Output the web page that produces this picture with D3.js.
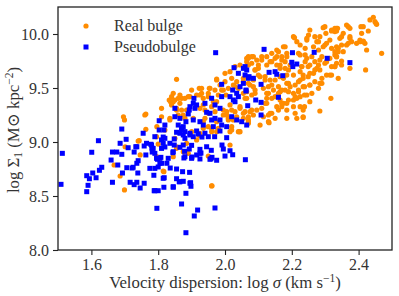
<!DOCTYPE html>
<html>
<head>
<meta charset="utf-8">
<script src="https://cdn.jsdelivr.net/npm/d3@7/dist/d3.min.js"></script>
<style>
  body { margin: 0; background: #fff; }
  svg text { font-family: "Liberation Serif", "DejaVu Serif", serif; fill: #333; }
</style>
</head>
<body>
<svg id="chart" width="399" height="296"></svg>
<script>
// series names, in draw order
var seriesNames = ["Real bulge", "Pseudobulge"];
var xTicks = [1.6, 1.8, 2.0, 2.2, 2.4];
var yTicks = [8.0, 8.5, 9.0, 9.5, 10.0];

// [log sigma, log Sigma1]
var realBulge = [
 [1.855,9.580],[1.840,9.420],[1.837,9.373],[1.850,9.389],[1.865,9.435],[1.870,9.404],[1.865,9.358],[1.855,9.296],[1.870,9.296],[1.890,9.420],
 [1.900,9.481],[1.915,9.435],[1.880,9.219],[1.835,9.204],[1.696,9.234],[1.699,9.204],[1.760,9.250],[1.763,9.117],[1.796,9.142],[1.740,9.009],
 [1.701,8.956],[1.905,9.219],[1.900,9.096],[1.915,9.019],[1.923,9.060],[1.885,8.988],[1.855,8.956],[1.800,8.981],
 [1.923,9.497],[1.930,9.451],[1.953,9.497],[1.975,9.583],[1.985,9.528],[2.000,9.559],[2.020,9.590],[2.015,9.651],[2.030,9.698],[2.065,9.744],
 [2.070,9.790],[1.990,9.481],[2.003,9.435],[2.010,9.497],[2.030,9.512],[2.035,9.559],[2.055,9.590],[2.065,9.466],[2.060,9.404],[2.015,9.343],
 [2.020,9.296],[2.005,9.281],[1.995,9.250],[2.010,9.219],[2.030,9.281],[2.045,9.312],[2.060,9.281],[2.055,9.219],[2.070,9.234],[2.020,9.111],
 [2.040,9.096],[1.965,9.373],[1.950,9.420],[1.895,9.420],[1.880,9.404],[1.860,9.404],[1.845,9.451],[1.845,9.373],[1.840,9.343],[1.833,9.389],
 [1.855,9.312],[1.860,9.250],[1.835,9.219],[1.875,9.250],[1.885,9.296],[1.935,9.188],[1.950,9.142],[1.960,9.096],[1.975,9.096],[2.015,9.219],
 [1.925,9.435],[1.935,9.343],[1.940,9.296],[1.975,9.373],[1.980,9.435],
 [2.444,10.155],[2.452,10.099],[2.434,10.130],[2.414,10.068],[2.409,10.006],[2.404,9.944],[2.414,9.929],[2.419,9.914],[2.394,9.914],[2.424,9.852],
 [2.469,9.821],[2.421,9.667],[2.364,10.083],[2.369,10.068],[2.334,10.053],[2.329,10.022],[2.299,10.068],[2.319,10.028],[2.302,10.006],[2.354,10.006],
 [2.344,9.960],[2.374,9.975],[2.379,9.929],[2.364,9.898],[2.349,9.898],[2.334,9.882],[2.339,9.836],[2.329,9.806],[2.314,9.944],[2.304,9.914],
 [2.294,9.882],[2.284,9.975],[2.275,9.929],[2.265,9.882],[2.280,9.852],[2.290,9.790],[2.304,9.744],[2.319,9.698],[2.334,9.729],[2.374,9.682],
 [2.339,9.590],[2.319,9.620],[2.304,9.620],[2.290,9.543],[2.280,9.497],[2.317,9.404],[2.284,9.287],[2.234,9.234],[2.254,9.373],[2.245,9.435],
 [2.225,9.420],[2.210,9.420],[2.220,9.481],[2.234,9.512],[2.254,9.528],[2.269,9.559],[2.265,9.636],[2.249,9.605],[2.234,9.620],[2.225,9.574],
 [2.210,9.528],[2.195,9.512],[2.180,9.481],[2.165,9.466],[2.145,9.481],[2.130,9.512],[2.125,9.451],[2.140,9.404],[2.125,9.358],[2.110,9.312],
 [2.095,9.296],[2.085,9.250],[2.070,9.204],[2.075,9.281],[2.055,9.266],[2.045,9.327],[2.035,9.234],[2.020,9.142],[2.025,9.204],[2.015,9.096],
 [2.045,9.096],[2.015,8.972],[2.135,9.266],[2.155,9.327],[2.175,9.358],[2.190,9.389],[2.205,9.389],[2.165,9.389],[2.150,9.420],[2.185,9.543],
 [2.175,9.590],[2.165,9.605],[2.150,9.574],[2.135,9.574],[2.120,9.605],[2.100,9.620],[2.085,9.574],[2.070,9.543],[2.055,9.559],[2.090,9.667],
 [2.100,9.713],[2.110,9.759],[2.125,9.790],[2.135,9.744],[2.150,9.775],[2.170,9.790],[2.185,9.821],[2.180,9.744],[2.165,9.713],[2.155,9.852],
 [2.175,9.882],[2.205,9.975],[2.215,9.929],[2.225,9.898],[2.240,9.867],[2.245,9.944],[2.250,9.990],[2.254,10.037],[2.225,9.806],[2.245,9.775],
 [2.254,9.713],[2.269,9.744],[2.275,9.682],[2.284,9.667],[2.230,9.698],[2.225,9.651],[2.190,9.667],[2.205,9.620],[2.185,9.620],[2.195,9.713],
 [2.065,9.775],[2.070,9.713],[2.080,9.790],[2.045,9.713],[2.000,9.636],[1.975,9.574],[1.995,9.481],[1.970,9.481],[1.955,9.497],[1.950,9.451],
 [1.930,9.497],[1.935,9.404],[1.960,9.327],[1.970,9.281],[1.950,9.266],[1.940,9.219],[1.975,9.188],[1.980,9.127],[1.960,9.127],[1.935,9.127],
 [2.005,9.250],[2.010,9.204],[1.995,9.296],[1.925,9.312],[2.065,9.404],[2.080,9.435],[2.090,9.481],[2.055,9.451],[2.040,9.497],[2.025,9.528],
 [2.205,9.451],[2.170,9.327],[2.160,9.296],[2.185,9.296],[2.205,9.327],[2.215,9.219],[2.210,9.266],[2.150,9.219],[2.130,9.250],[2.115,9.234],
 [2.185,9.219],[2.225,9.327],
 [2.260,9.451],[2.238,9.435],[2.238,9.327],[2.234,9.228],[2.215,9.404],[2.185,9.358],[2.140,9.266],[2.132,9.179],[2.070,9.173],[2.125,9.404],
 [2.170,9.358],[2.080,9.296],[2.120,9.358],
 [2.449,10.114],[2.454,10.090],[2.407,10.068],[2.429,10.028],[2.374,10.053],[2.337,10.053],[2.349,9.975],[2.374,9.960],[2.369,9.914],[2.404,9.929],
 [2.414,9.935],[2.339,9.867],[2.354,9.836],[2.334,9.790],[2.349,9.750],[2.349,9.713],[2.329,9.698],
 [1.820,9.111],[1.850,9.034],[1.855,8.941],[1.875,8.910],[1.890,8.895],[1.845,8.864],[1.795,8.864],[1.817,8.725],[1.950,8.870],[1.960,8.593],
 [2.043,9.096],[1.925,9.081],[1.795,9.049],
 [2.294,10.059],[2.319,10.037],[2.329,10.053],[2.334,10.028],[2.208,9.966],[2.245,9.960],[2.269,9.975],[2.280,9.929],[2.299,9.898],[2.319,9.867],
 [2.329,9.836],[2.334,9.790],[2.314,9.775],[2.299,9.729],[2.329,9.698],[2.314,9.620],[2.290,9.590],[2.284,9.543],[2.254,9.528],[2.238,9.512],
 [2.220,9.466],[2.190,9.466],[2.170,9.481],[2.160,9.512],[2.190,9.543],[2.220,9.559],[2.234,9.590],[2.254,9.636],[2.269,9.667],[2.280,9.713],
 [2.284,9.759],[2.260,9.790],[2.240,9.744],[2.230,9.698],[2.249,9.698],[2.240,9.806],[2.220,9.821],[2.185,9.790],[2.170,9.759],[2.155,9.713],
 [2.165,9.682],[2.180,9.682],[2.140,9.744],[2.125,9.713],[2.100,9.682],[2.090,9.667],[2.080,9.729],[2.070,9.775],[2.085,9.790],[2.095,9.759],
 [2.110,9.790],[2.140,9.821],[2.160,9.836],[2.180,9.882],[2.155,9.790],[2.120,9.574],[2.105,9.605],[2.140,9.528],[2.115,9.497],[2.085,9.512],
 [2.075,9.528],[2.160,9.451],[2.130,9.451],[2.090,9.451],
 [2.105,9.157],[2.130,9.188],[2.070,9.188],[2.234,9.296],[1.810,9.312],[1.810,9.234],[1.699,8.556],[1.686,8.685],[1.668,8.787],[1.815,8.731],
 [1.961,8.595],[1.743,9.012],[1.746,8.880],[1.763,9.259]
];

var pseudoBulge = [
 [1.513,8.895],[1.601,8.905],[1.621,9.012],[1.691,9.120],[1.704,9.025],[1.686,8.988],[1.755,9.081],[1.663,8.907],[1.676,8.907],[1.691,8.886],
 [1.710,8.947],[1.733,8.956],[1.728,8.907],[1.763,8.880],[1.758,8.963],[1.778,8.979],[1.782,8.907],[1.659,8.833],[1.740,8.827],[1.736,8.803],
 [1.706,8.762],[1.631,8.766],[1.679,8.787],[1.725,8.766],[1.509,8.608],[1.586,8.688],[1.594,8.660],[1.604,8.713],[1.614,8.669],[1.624,8.738],
 [1.590,8.599],[1.586,8.540],[1.663,8.627],[1.693,8.713],[1.722,8.759],[1.739,8.713],[1.716,8.627],[1.728,8.605],[1.736,8.627],[1.746,8.574],
 [1.758,8.618],[1.787,8.692],[1.788,8.549],[1.775,8.756],[1.796,8.386],[1.883,8.160],[1.870,8.426],[1.908,8.315],[1.918,8.370],[1.883,8.525],
 [1.895,8.618],[1.865,8.632],[1.970,8.389],[2.000,8.870],[1.958,8.845],[1.928,8.898],
 [1.803,9.197],[1.820,9.157],[1.817,9.111],[1.850,9.234],[1.865,9.219],[1.860,9.157],[1.855,9.090],[1.870,9.111],[1.875,9.142],[1.883,9.188],
 [1.893,9.296],[1.905,9.358],[1.915,9.343],[1.910,9.312],[1.940,9.358],[1.945,9.275],[1.955,9.266],[1.960,9.204],[1.970,9.219],[1.965,9.142],
 [1.985,9.204],[1.990,9.157],[2.005,9.142],[1.960,9.405],[1.970,9.343],[1.990,9.420],[1.985,9.312],[2.015,9.420],[2.025,9.389],[2.040,9.420],
 [2.030,9.373],[2.045,9.512],[2.055,9.543],[2.040,9.636],[2.055,9.682],[2.065,9.667],[2.060,9.620],[2.070,9.590],[2.035,9.204],[2.050,9.188],
 [2.065,9.157],[2.020,9.234],[1.905,9.204],[1.925,9.188],[1.935,9.157],[1.880,9.096],[1.895,9.081],[1.915,9.102],
 [1.790,9.049],[1.815,9.046],[1.931,9.046],[1.950,9.049],[1.969,9.049],[1.985,9.102],[2.005,9.040],[1.991,8.972],[1.995,8.935],[1.945,8.956],
 [1.893,8.935],[1.900,8.969],[1.848,8.972],[1.848,9.028],[1.865,8.951],[1.820,8.954],[1.781,8.944],[1.790,8.895],[1.808,8.858],[1.798,8.840],
 [1.844,8.901],[1.879,8.914],[1.925,8.932],[1.975,8.831],[1.925,8.843],[1.901,8.861],[1.877,8.852],[1.826,8.803],[1.805,8.803],[1.800,8.769],
 [1.836,8.759],[1.961,8.858],[2.015,8.919],[1.959,8.923],[2.023,8.882],[2.061,8.836],[1.855,8.750],[1.818,8.669],[1.855,8.660],[1.875,8.636],
 [1.894,8.719],[1.817,8.581],[1.800,8.549],[1.845,8.586],[1.898,8.590],
 [1.820,9.034],[1.865,9.081],[1.875,9.065],[1.895,9.065],[1.905,9.049],[1.920,9.074],[1.940,9.081],[1.880,9.034],[1.810,9.019],[1.815,8.988],
 [1.835,8.988],[1.875,8.972],[1.780,8.972],[1.785,8.941],[1.810,8.941],[1.845,8.910],[1.925,8.895],[1.915,8.880],[1.900,8.849],[1.880,8.864],
 [1.805,8.849],[1.795,8.849],[1.830,8.849],[1.955,8.840],[1.810,8.803],[1.790,8.756],[1.873,8.725],[1.815,8.664],[1.863,8.632],[1.897,8.623],
 [1.845,8.581],[1.790,8.549],
 [2.117,9.858],[2.202,9.827],[2.267,9.830],[2.306,9.775],[2.200,9.738],[2.203,9.698],[2.215,9.722],[2.072,9.605],[2.085,9.590],[2.132,9.645],
 [2.150,9.651],[2.155,9.627],[2.173,9.614],[2.108,9.534],[2.063,9.481],[2.060,9.698],[2.092,9.389],[2.108,9.367],[2.160,9.414],[2.068,9.336],
 [2.108,9.250],[2.063,9.472],[2.374,9.735],[1.972,9.827],[2.027,9.688],[1.990,9.534],[2.023,9.481],[2.035,9.451],
 [1.803,9.111],[1.850,9.312],[1.895,9.327],[1.907,9.404],[1.870,9.130],[1.890,9.260],[1.765,8.988],[1.736,8.956]
];

var W = 399, H = 296;
var plotLeft = 58, plotRight = 392, plotTop = 7, plotBottom = 250;
var orange = "#ff8c00", blue = "#0000ff";

var svg = d3.select("#chart");

var x = d3.scaleLinear().domain([1.5, 2.5]).range([plotLeft, plotRight]);
var y = d3.scaleLinear().domain([8.0, 10.25]).range([plotBottom, plotTop]);

// clip so points don't spill over the frame
svg.append("clipPath").attr("id", "plotClip")
    .append("rect")
    .attr("x", plotLeft).attr("y", plotTop)
    .attr("width", plotRight - plotLeft).attr("height", plotBottom - plotTop);

var points = svg.append("g").attr("clip-path", "url(#plotClip)");

points.selectAll(".real")
    .data(realBulge)
    .enter().append("circle")
    .attr("class", "real")
    .attr("cx", function(d){ return x(d[0]); })
    .attr("cy", function(d){ return y(d[1]); })
    .attr("r", 2.6)
    .attr("fill", orange);

var sq = 5;
points.selectAll(".pseudo")
    .data(pseudoBulge)
    .enter().append("rect")
    .attr("class", "pseudo")
    .attr("x", function(d){ return x(d[0]) - sq/2; })
    .attr("y", function(d){ return y(d[1]) - sq/2; })
    .attr("width", sq).attr("height", sq)
    .attr("fill", blue);

// axes
var xAxis = svg.append("g")
    .attr("transform", "translate(0," + plotBottom + ")")
    .call(d3.axisBottom(x).tickValues(xTicks).tickFormat(d3.format(".1f")).tickSize(5).tickPadding(4));
var yAxis = svg.append("g")
    .attr("transform", "translate(" + plotLeft + ",0)")
    .call(d3.axisLeft(y).tickValues(yTicks).tickFormat(d3.format(".1f")).tickSize(5).tickPadding(4));

[xAxis, yAxis].forEach(function(a){
    a.select(".domain").remove();
    a.selectAll(".tick line").attr("stroke", "#222").attr("stroke-width", 1.1);
    a.selectAll(".tick text")
        .attr("font-size", "16px")
        .style("font-family", "'Liberation Serif', serif")
        .attr("fill", "#555");
});

// frame
svg.append("rect")
    .attr("x", plotLeft).attr("y", plotTop)
    .attr("width", plotRight - plotLeft).attr("height", plotBottom - plotTop)
    .attr("fill", "none").attr("stroke", "#222").attr("stroke-width", 1.3);

// axis labels
var xl = svg.append("text")
    .attr("x", (plotLeft + plotRight) / 2).attr("y", 288)
    .attr("text-anchor", "middle").attr("font-size", "16.8px").attr("fill", "#555");
xl.append("tspan").text("Velocity dispersion:  log ");
xl.append("tspan").attr("font-style", "italic").text("σ");
xl.append("tspan").text("  (km s");
xl.append("tspan").attr("dy", -6).attr("font-size", "11.5px").text("−1");
xl.append("tspan").attr("dy", 6).text(")");

var yl = svg.append("text")
    .attr("transform", "translate(19," + 130 + ") rotate(-90)")
    .attr("text-anchor", "middle").attr("font-size", "16.8px").attr("fill", "#555");
yl.append("tspan").text("log Σ");
yl.append("tspan").attr("dy", 3).attr("font-size", "11.5px").text("1");
yl.append("tspan").attr("dy", -3).text("  (M⊙ kpc");
yl.append("tspan").attr("dy", -6).attr("font-size", "11.5px").text("−2");
yl.append("tspan").attr("dy", 6).text(")");

// legend
var legend = svg.append("g");
var legendRows = legend.selectAll("g")
    .data(seriesNames)
    .enter().append("g")
    .attr("transform", function(d, i){ return "translate(86," + (26 + i * 21) + ")"; });

legendRows.each(function(d, i){
    var g = d3.select(this);
    if(i == 0){
        g.append("circle").attr("r", 2.6).attr("fill", orange);
    } else {
        g.append("rect").attr("x", -sq/2).attr("y", -sq/2).attr("width", sq).attr("height", sq).attr("fill", blue);
    }
    g.append("text").attr("x", 28).attr("y", 5).attr("font-size", "16px").attr("fill", "#555").text(d);
});
</script>
</body>
</html>
